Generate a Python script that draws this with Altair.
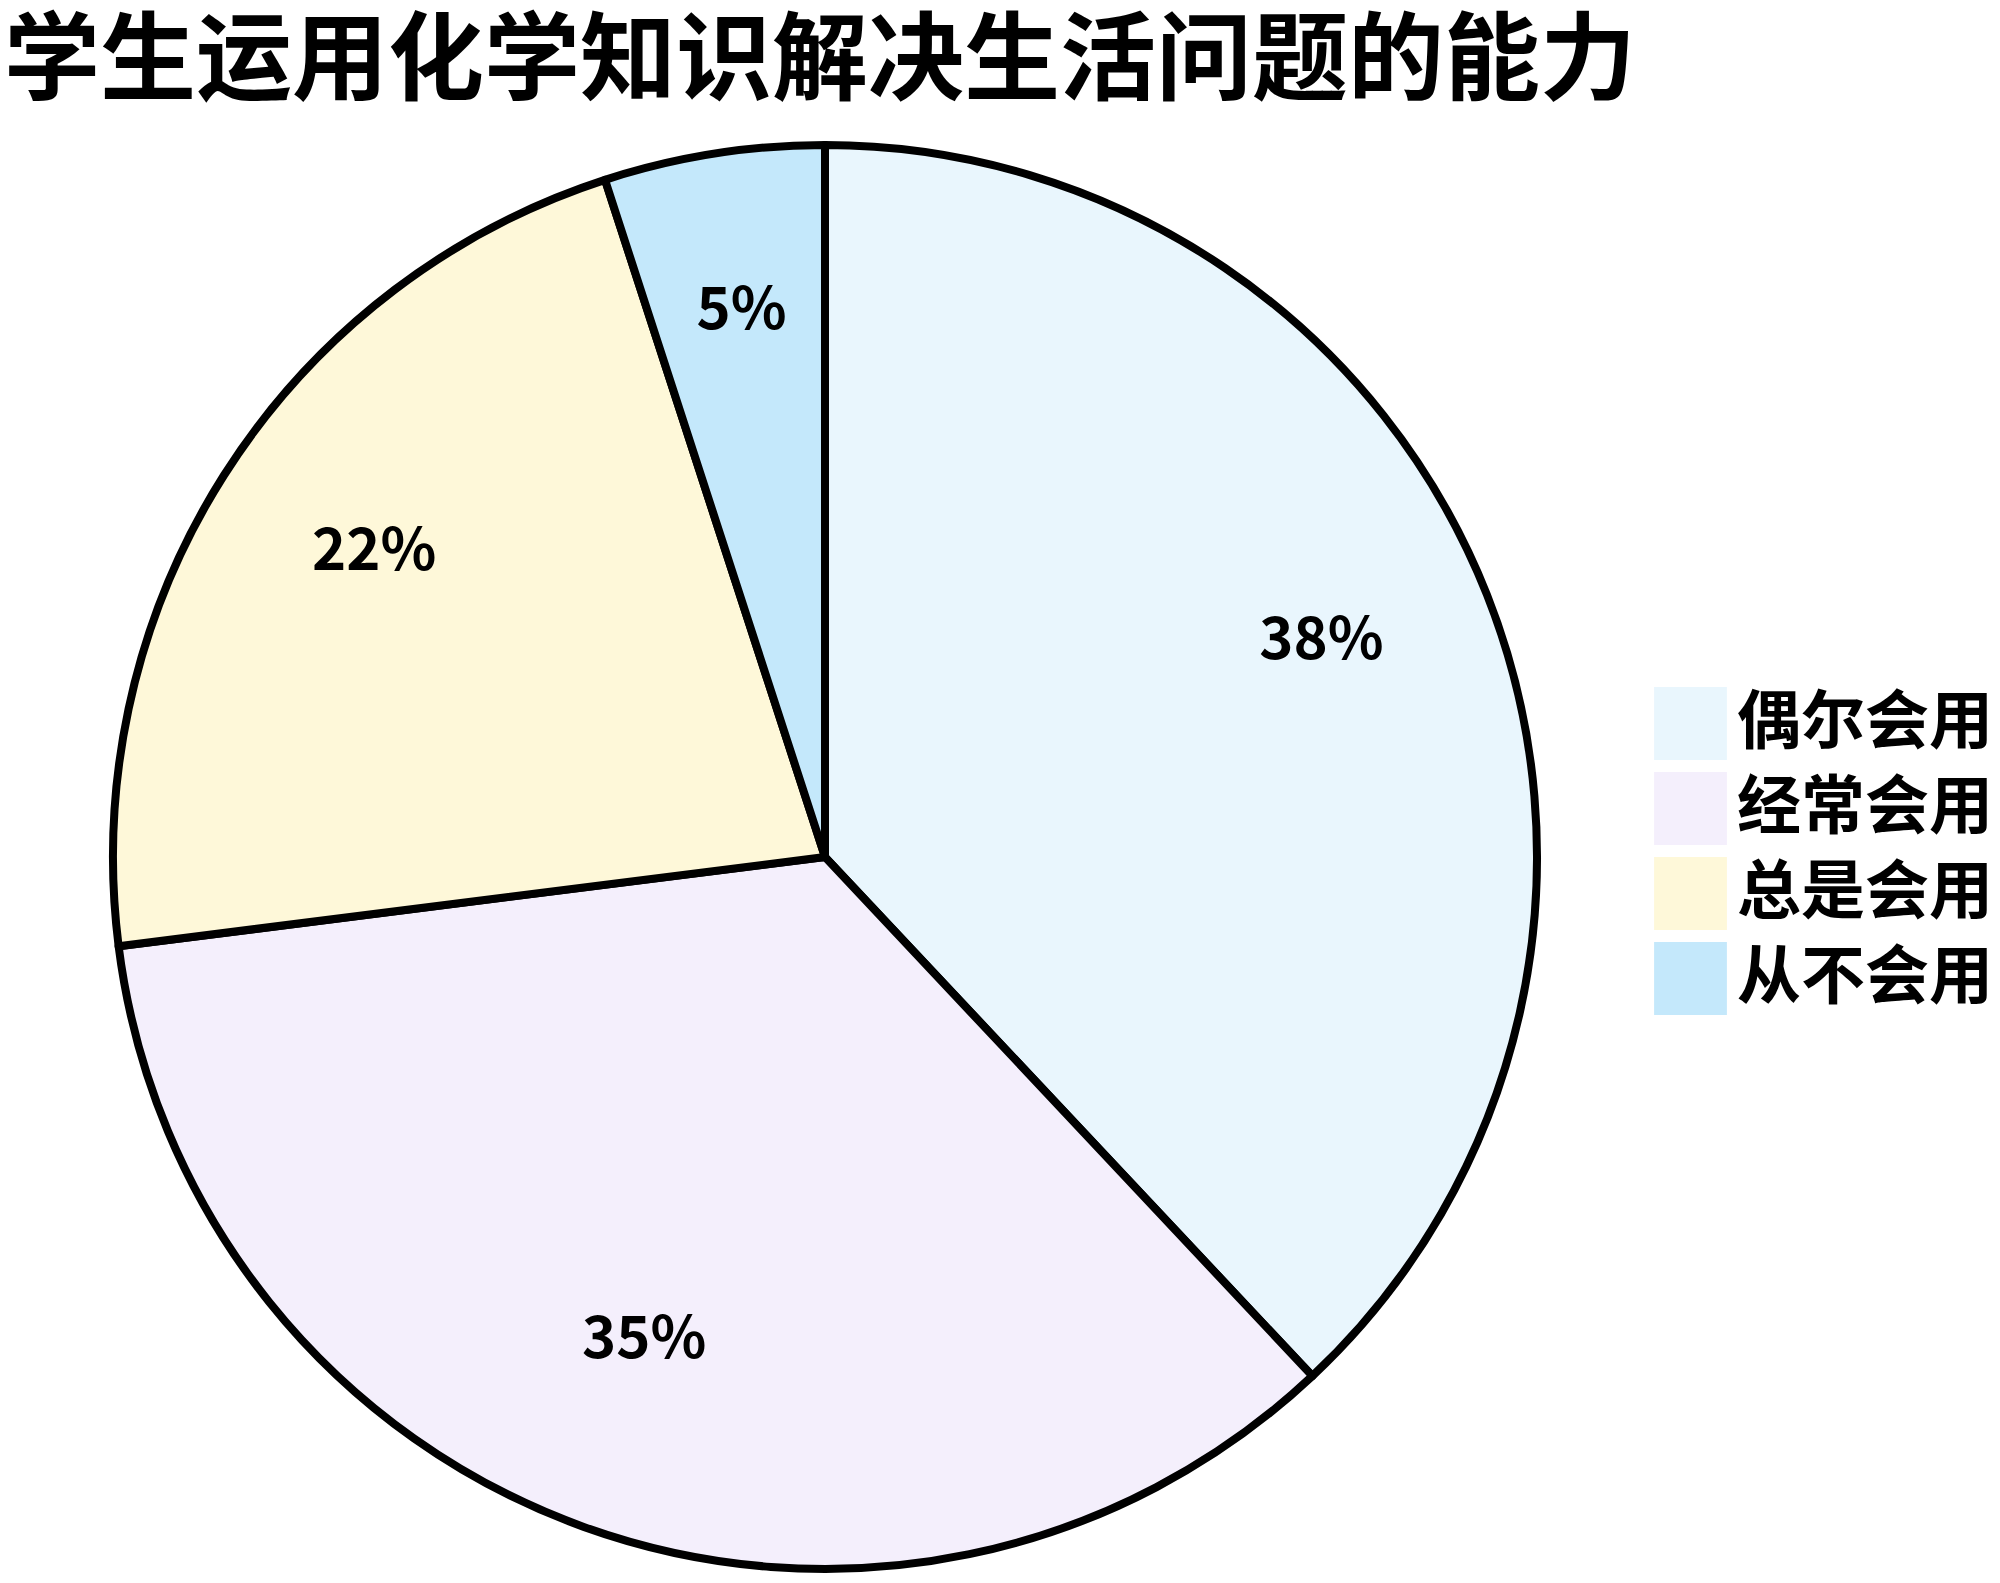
import altair as alt
import pandas as pd

categories = ["偶尔会用", "经常会用", "总是会用", "从不会用"]
values = [38, 35, 22, 5]
labels = ["38%", "35%", "22%", "5%"]
colors = ["#E9F6FD", "#F4EFFC", "#FEF8D9", "#C4E8FB"]

df = pd.DataFrame({
    "category": categories,
    "value": values,
    "label": labels,
    "order": list(range(len(categories))),
})

PADTOP = 100
W, H = 1984, 1567 - PADTOP
CX, CY = 817, 849 - PADTOP
R = 712

base = alt.Chart(df).encode(
    theta=alt.Theta("value:Q", stack=True),
    order=alt.Order("order:Q"),
)

arcs = base.mark_arc(stroke="black", strokeWidth=8, strokeJoin="round").encode(
    x=alt.value(CX),
    y=alt.value(CY),
    radius=alt.value(R),
    color=alt.Color(
        "category:N",
        scale=alt.Scale(domain=categories, range=colors),
        sort=categories,
        legend=alt.Legend(
            title=None,
            orient="none",
            legendX=1646,
            legendY=679 - PADTOP,
            symbolType="square",
            symbolSize=5300,
            symbolStrokeWidth=0,
            symbolOpacity=1,
            labelFont="Noto Sans CJK SC",
            labelFontSize=64,
            labelFontWeight="bold",
            labelColor="black",
            labelOffset=10,
            labelLimit=400,
            rowPadding=12,
            padding=0,
        ),
    ),
)

text = base.mark_text(
    font="Noto Sans CJK SC", fontSize=58, fontWeight="bold", color="black", dy=-18
).encode(
    x=alt.value(CX),
    y=alt.value(CY),
    radius=alt.value(534),
    text="label:N",
)

chart = (
    alt.layer(arcs, text)
    .properties(
        width=W,
        height=H,
        autosize=alt.AutoSizeParams(type="none"),
        padding={"left": 0, "top": PADTOP, "right": 0, "bottom": 0},
        title=alt.TitleParams(
            "学生运用化学知识解决生活问题的能力",
            anchor="start",
            frame="group",
            font="Noto Sans CJK SC",
            fontSize=96,
            fontWeight="bold",
            color="black",
            baseline="bottom",
            offset=2,
            dx=-4,
            dy=102,
        ),
    )
    .configure_view(stroke=None)
)

chart.save("out.html", embed_options={"renderer": "svg", "actions": False})
